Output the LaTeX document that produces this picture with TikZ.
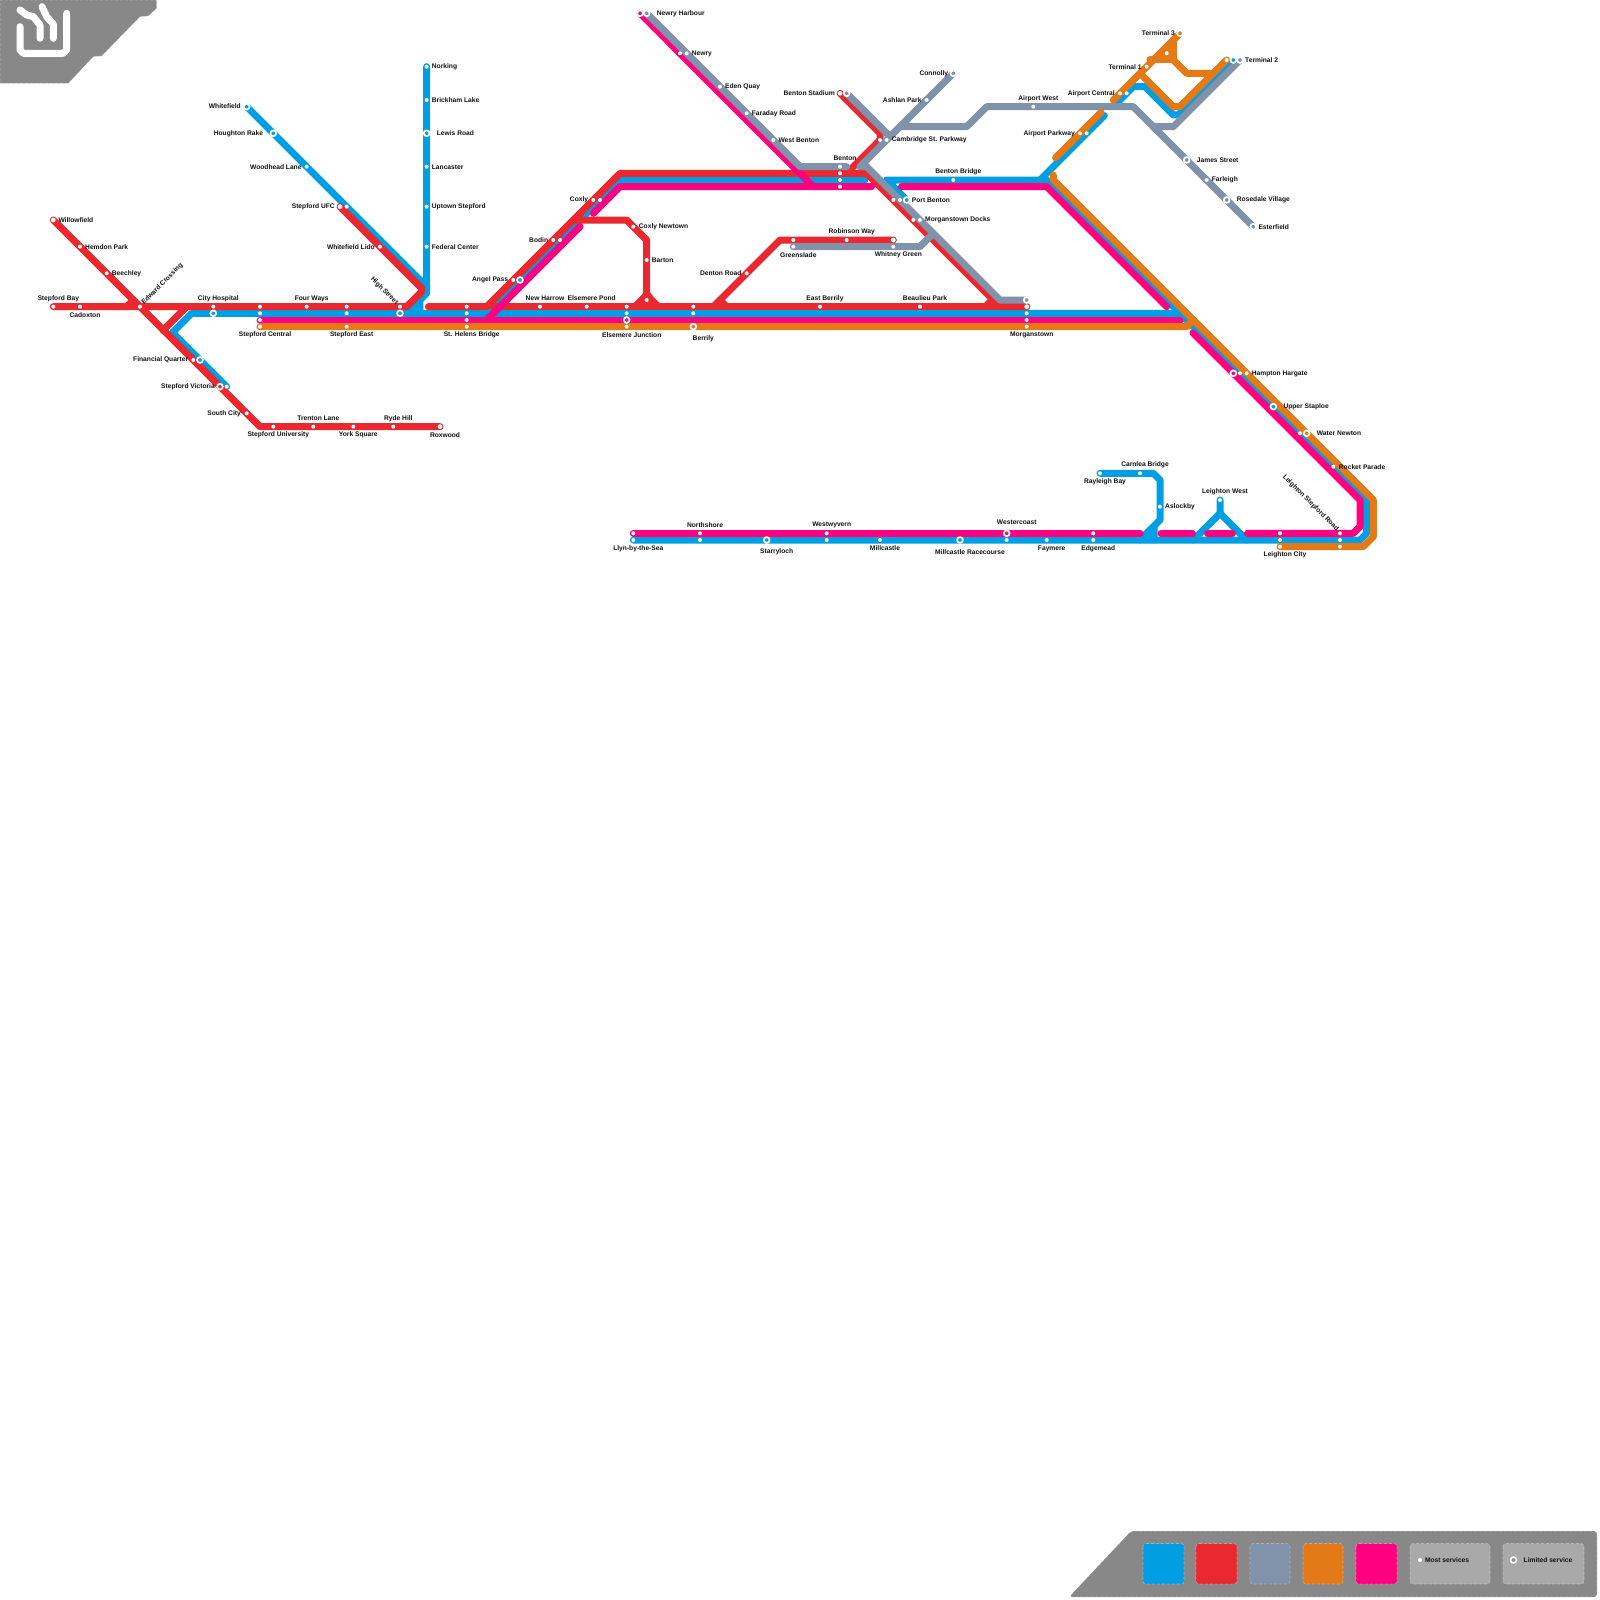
\documentclass[tikz,border=0pt]{standalone}
\usepackage{fontspec}
\setmainfont{Liberation Sans}
\definecolor{lblue}{HTML}{009FE3}
\definecolor{lred}{HTML}{E9282F}
\definecolor{lgrey}{HTML}{8093AB}
\definecolor{lorange}{HTML}{E47917}
\definecolor{lpink}{HTML}{FF0080}
\definecolor{panelgrey}{HTML}{888888}
\definecolor{boxgrey}{HTML}{A9A9A9}
\definecolor{ink}{HTML}{111111}
\tikzset{
  railway/.style={line width=7pt,line cap=round,line join=round},
  bluerail/.style={railway,draw=lblue},
  redrail/.style={railway,draw=lred},
  pinkrail/.style={railway,draw=lpink},
  greyrail/.style={railway,draw=lgrey},
  orangerail/.style={railway,draw=lorange},
  iconstroke/.style={line width=7pt,line cap=round,line join=round,draw=white},
  stopdot/.style={circle,fill=white,draw=none,minimum size=4pt,inner sep=0pt},
  stophollow/.style={circle,fill=white,draw=none,minimum size=4.8pt,inner sep=0pt},
  stopring/.style={circle,draw=white,line width=1.7pt,minimum size=5.8pt,inner sep=0pt},
  lab/.style={font=\fontsize{6.67}{8}\selectfont\bfseries,text=ink,inner sep=0pt,yshift=-0.8pt},
  lw/.style={lab,anchor=west},
  le/.style={lab,anchor=east},
  panelshape/.style={fill=panelgrey,draw=white,draw opacity=.35,line width=.6pt,dash pattern=on 3pt off 2pt,rounded corners=3pt},
  swatch/.style={rounded corners=3pt,draw=white,draw opacity=.35,line width=.6pt,dash pattern=on 3pt off 2pt},
}
\begin{document}
\begin{tikzpicture}[x=1pt,y=-1pt]
\useasboundingbox (0,0) rectangle (1600,1600);
\fill[white] (0,0) rectangle (1600,1600);
% top-left panel and icon
\draw[panelshape,rounded corners=0pt] (0,0) -- (156.7,0) -- (156.7,8.3) -- (148.3,16) -- (140,16.7) -- (101.7,56) -- (93.3,56.7) -- (68.3,83.3) -- (0,83.3) -- cycle;
\draw[iconstroke] (20,10) -- (26.67,15) -- (33.3,16.67) -- (40,25) -- (40,38.3);
\draw[iconstroke] (42,6.67) -- (46.67,16.67) -- (53.3,24) -- (53.3,38.3);
\draw[iconstroke] (20,26.67) -- (20,50) -- (23.3,53.3) -- (63.3,53.3) -- (66.67,50) -- (66.67,13.3);
% legend panel
\draw[panelshape] (1069,1597) -- (1131,1531) -- (1597,1531) -- (1597,1597) -- cycle;
\draw[swatch,fill=lblue] (1143,1543.5) rectangle (1184,1584);
\draw[swatch,fill=lred] (1196,1543.5) rectangle (1237,1584);
\draw[swatch,fill=lgrey] (1250,1543.5) rectangle (1290,1584);
\draw[swatch,fill=lorange] (1303,1543.5) rectangle (1343,1584);
\draw[swatch,fill=lpink] (1356,1543.5) rectangle (1397,1584);
\draw[swatch,fill=boxgrey] (1410,1543.5) rectangle (1490,1584);
\draw[swatch,fill=boxgrey] (1503,1543.5) rectangle (1584,1584);
\node[stopdot] (legdot) at (1420,1560) {};
\node[lw] (legmost) at (1424.8,1559) {Most services};
\node[stopring,fill=panelgrey] (legring) at (1513.5,1560) {};
\node[lw] (leglimited) at (1523.5,1559) {Limited service};
% blue
\fill[lblue] (408,316.6) -- (423.3,298) -- (423.3,316.6) -- cycle;
\fill[lblue] (1143.3,543) -- (1143.3,532) -- (1157.7,518) -- (1157.7,543) -- cycle;
\draw[bluerail] (426.67,66.67) -- (426.67,293.3) -- (406.67,313.3);
\draw[bluerail] (246.67,106.67) -- (426.67,286.67);
\draw[bluerail] (226.67,386.67) -- (172.5,332.5) -- (191.7,313.3) -- (486.67,313.3) -- (620,180) -- (865,180);
\draw[bluerail] (486.67,313.3) -- (1180,313.3) -- (1366.67,500) -- (1366.67,533.3) -- (1360,540) -- (633.3,540);
\draw[bluerail] (906.67,200) -- (886.67,180) -- (1046.67,180) -- (1180,313.3);
\draw[bluerail] (1040,180) -- (1104.3,115.6);
\draw[bluerail] (1118,102) -- (1133.3,86.67) -- (1145,86.67) -- (1173.3,115) -- (1178.3,115) -- (1233.3,60);
\draw[bluerail] (1100,473.3) -- (1153.3,473.3) -- (1160,480) -- (1160,520) -- (1140,540);
\draw[bluerail] (1220,500) -- (1220,513.3) -- (1193.3,540);
\draw[bluerail] (1220,513.3) -- (1246.67,540);
% red
\draw[redrail] (53.3,220) -- (260,426.67) -- (440,426.67);
\draw[redrail] (53.3,306.67) -- (406.67,306.67) -- (421.67,291.67) -- (421.67,288.3) -- (340,206.67);
\draw[redrail] (428.4,306.67) -- (486.67,306.67) -- (620,173.3) -- (866.67,173.3) -- (1000,306.67) -- (1026.67,306.67);
\draw[redrail] (493,306.67) -- (1026.67,306.67);
\fill[lred] (633,306.67) -- (644,292) -- (650,292) -- (660,306.67) -- cycle;
\draw[redrail] (573.3,220) -- (626.67,220) -- (646.67,240) -- (646.67,295) -- (635,306.67);
\draw[redrail] (646.67,295) -- (658.3,306.67);
\draw[redrail] (713.3,306.67) -- (780,240) -- (893.3,240);
\draw[redrail] (720,300) -- (726.67,306.67);
\draw[redrail] (992,300) -- (985.3,306.67);
\draw[redrail] (133.3,300) -- (126.67,306.67);
\draw[redrail] (840,93.3) -- (880,133.3) -- (880,140) -- (846.67,173.3);
\draw[redrail] (186.67,306.67) -- (163,330.3);
% pink
\draw[pinkrail] (640,13.3) -- (813.3,186.67);
\draw[pinkrail] (260,320) -- (1180,320);
\draw[pinkrail] (486.67,320) -- (580,226.67);
\draw[pinkrail] (593.3,213.3) -- (620,186.67) -- (871.5,186.67);
\draw[pinkrail] (901.5,186.67) -- (1046.67,186.67) -- (1166.67,306.67);
\draw[pinkrail] (1193,333) -- (1360,500) -- (1360,526.67) -- (1353.3,533.3) -- (1247.5,533.3);
\draw[pinkrail] (1207.5,533.3) -- (1232.5,533.3);
\draw[pinkrail] (1161,533.3) -- (1192.5,533.3);
\draw[pinkrail] (633.3,533.3) -- (1140,533.3);
% grey
\draw[greyrail] (646.67,13.3) -- (800,166.67) -- (846.67,166.67);
\draw[greyrail] (846.67,93.3) -- (888,134.6);
\draw[greyrail] (953.3,73.3) -- (860,166.67) -- (866.67,166.67) -- (1000,300) -- (1026.67,300);
\draw[greyrail] (900,126.67) -- (966.67,126.67) -- (986.67,106.67) -- (1133.3,106.67) -- (1253.3,226.67);
\draw[greyrail] (1240,60) -- (1173.3,126.67) -- (1153.3,126.67) -- (1160,133.3);
\draw[greyrail] (793.3,246.67) -- (920,246.67) -- (933.3,233.3);
% orange
\draw[orangerail] (260,326.67) -- (1186.67,326.67) -- (1193.3,320);
\draw[orangerail] (1053.3,175) -- (1053.3,180) -- (1373.3,500) -- (1373.3,536.67) -- (1363.3,546.67) -- (1280,546.67);
\draw[orangerail] (1055.6,157.7) -- (1101,112.3);
\fill[lorange] (1153.3,60) -- (1173.3,60) -- (1173.3,40) -- cycle;
\draw[orangerail] (1113.3,100) -- (1180,33.3);
\draw[orangerail] (1173.3,40) -- (1173.3,60) -- (1186.67,73.3) -- (1210,73.3);
\draw[orangerail] (1150,60) -- (1173.3,60);
\draw[orangerail] (1226.67,60) -- (1180,106.67) -- (1173.3,106.67) -- (1140,73.3);
% plain stops
\foreach \x/\y [count=\i] in {
 426.67/66.67,426.67/100,426.67/166.67,426.67/206.67,426.67/246.67,
 306.67/166.67,346.67/206.67,380/246.67,
 80/246.67,106.67/273.3,53.3/306.67,80/306.67,140/306.67,213.3/306.67,260/306.67,306.67/306.67,346.67/306.67,400/306.67,466.67/306.67,
 260/313.3,346.67/313.3,466.67/313.3,260/320,466.67/320,346.67/326.67,466.67/326.67,260/326.67,
 193.3/360,246.67/413.3,273.3/426.67,313.3/426.67,353.3/426.67,393.3/426.67,
 226.67/386.67,
 600/200,593.3/200,513.3/280,553.3/240,560/240,
 633.3/226.67,646.67/260,646.67/300,
 540/306.67,586.67/306.67,626.67/306.67,693.3/306.67,820/306.67,920/306.67,
 626.67/313.3,693.3/313.3,1026.67/313.3,1026.67/320,626.67/326.67,1026.67/326.67,
 746.67/273.3,793.3/240,846.67/240,793.3/246.67,893.3/246.67,
 686.67/53.3,680/53.3,720/86.67,746.67/113.3,773.3/140,
 840/166.67,840/173.3,840/180,840/186.67,
 880/140,886.67/140,926.67/100,1033.3/106.67,953.3/180,
 893.3/200,900/200,913.3/220,920/220,
 1080/133.3,1086.67/133.3,1120/93.3,1126.67/93.3,1146.67/66.67,1166.67/53.3,1226.67/60,
 1206.67/180,1240/373.3,1246.67/373.3,1300/433.3,1333.3/466.67,
 1100/473.3,1140/473.3,1160/506.67,1220/500,
 633.3/533.3,633.3/540,700/533.3,700/540,826.67/533.3,826.67/540,880/540,1006.67/540,1046.67/540,1093.3/533.3,1093.3/540,
 1280/533.3,1280/540,1280/546.67,1340/533.3,1340/540,1340/546.67}
 \node[stopdot] (dot\i) at (\x,\y) {};
% larger open stops at line ends
\foreach \x/\y [count=\i] in {53.3/220,340/206.67,840/93.3,893.3/240,1026.67/306.67,440/426.67}
 \node[stophollow] (open\i) at (\x,\y) {};
% ringed stops
\foreach \x/\y/\c [count=\i] in {
 246.67/106.67/lblue,273.3/133.3/lblue,426.67/133.3/lblue,
 200/360/lblue,220/386.67/lred,213.3/313.3/lblue,400/313.3/lblue,520/280/lblue,
 626.67/320/lpink,693.3/326.67/lorange,846.67/93.3/lgrey,953.3/73.3/lgrey,906.67/200/lblue,
 1026.67/300/lgrey,1186.67/160/lgrey,1226.67/200/lgrey,1253.3/226.67/lgrey,
 1233.3/373.3/lpink,1273.3/406.67/lblue,1306.67/433.3/lorange,1180/33.3/lorange,1233.3/60/lblue,1240/60/lgrey,
 1006.67/533.3/lpink,766.67/540/lblue,960/540/lblue,640/13.3/lpink,646.67/13.3/lgrey}
 \node[stopring,fill=\c] (ring\i) at (\x,\y) {};
% labels, right-hand
\node[lw] (tNorking) at (431.7,66.3) {Norking};
\node[lw] (tBrickham) at (431.7,99.3) {Brickham Lake};
\node[lw] (tLewis) at (436.7,132.7) {Lewis Road};
\node[lw] (tLancaster) at (431.7,166) {Lancaster};
\node[lw] (tUptown) at (431.7,206) {Uptown Stepford};
\node[lw] (tFederal) at (431.7,246) {Federal Center};
\node[lw] (tWillow) at (58.3,219.5) {Willowfield};
\node[lw] (tHemdon) at (85,246) {Hemdon Park};
\node[lw] (tBeechley) at (111.7,272.7) {Beechley};
\node[lw] (tCoxlyN) at (638.7,226) {Coxly Newtown};
\node[lw] (tBarton) at (651.7,259.3) {Barton};
\node[lw] (tNewryH) at (656.7,12.7) {Newry Harbour};
\node[lw] (tNewry) at (691.7,52.7) {Newry};
\node[lw] (tEden) at (725,86) {Eden Quay};
\node[lw] (tFaraday) at (751.7,112.7) {Faraday Road};
\node[lw] (tWBenton) at (778.3,139.3) {West Benton};
\node[lw] (tCambridge) at (891.7,139.3) {Cambridge St. Parkway};
\node[lw] (tPortB) at (911.7,199.3) {Port Benton};
\node[lw] (tDocks) at (925,219.3) {Morganstown Docks};
\node[lw] (tT2) at (1245,59.3) {Terminal 2};
\node[lw] (tJames) at (1196.7,159.3) {James Street};
\node[lw] (tFarleigh) at (1211.7,179.3) {Farleigh};
\node[lw] (tRosedale) at (1236.7,199.3) {Rosedale Village};
\node[lw] (tEsterfield) at (1258.3,226) {Esterfield};
\node[lw] (tHampton) at (1251.7,372.7) {Hampton Hargate};
\node[lw] (tUpper) at (1283.3,406) {Upper Staploe};
\node[lw] (tWater) at (1316.7,432.7) {Water Newton};
\node[lw] (tRocket) at (1338.7,466) {Rocket Parade};
\node[lw] (tAslockby) at (1165,506) {Aslockby};
% labels, left-hand
\node[le] (tWhitefield) at (241,105.2) {Whitefield};
\node[le] (tHoughton) at (263.3,132.7) {Houghton Rake};
\node[le] (tWoodhead) at (301.7,166) {Woodhead Lane};
\node[le] (tUFC) at (335,206) {Stepford UFC};
\node[le] (tLido) at (375,246) {Whitefield Lido};
\node[le] (tFinancial) at (188.3,359) {Financial Quarter};
\node[le] (tVictoria) at (215,386) {Stepford Victoria};
\node[le] (tSouth) at (241,412.5) {South City};
\node[le] (tAngel) at (508.3,279.3) {Angel Pass};
\node[le] (tBodin) at (548.3,239.3) {Bodin};
\node[le] (tCoxly) at (588.3,199.3) {Coxly};
\node[le] (tDenton) at (741.7,272.7) {Denton Road};
\node[le] (tStadium) at (835,92.7) {Benton Stadium};
\node[le] (tAshlan) at (921.7,99) {Ashlan Park};
\node[le] (tConnolly) at (948.3,72.7) {Connolly};
\node[le] (tParkway) at (1075,132.7) {Airport Parkway};
\node[le] (tAirCentral) at (1115,92.7) {Airport Central};
\node[le] (tT1) at (1141.7,66) {Terminal 1};
\node[le] (tT3) at (1175,32.5) {Terminal 3};
% labels, centred
\node[lab] (tBay) at (58.3,297.5) {Stepford Bay};
\node[lab] (tCadoxton) at (85,314.3) {Cadoxton};
\node[lab] (tCity) at (218.3,297.7) {City Hospital};
\node[lab] (tFour) at (311.7,297.7) {Four Ways};
\node[lab] (tCentral) at (265,334.3) {Stepford Central};
\node[lab] (tEast) at (351.7,334.3) {Stepford East};
\node[lab] (tHelens) at (471.7,334.3) {St. Helens Bridge};
\node[lab] (tTrenton) at (318.3,417.7) {Trenton Lane};
\node[lab] (tRyde) at (398.3,417.7) {Ryde Hill};
\node[lab] (tUniv) at (278.3,434.3) {Stepford University};
\node[lab] (tYork) at (358.3,434.3) {York Square};
\node[lab] (tRoxwood) at (445,434.3) {Roxwood};
\node[lab] (tHarrow) at (545,297.7) {New Harrow};
\node[lab] (tPond) at (591.7,297.7) {Elsemere Pond};
\node[lab] (tJunction) at (631.7,334.3) {Elsemere Junction};
\node[lab] (tBerrily) at (703.3,337.7) {Berrily};
\node[lab] (tGreenslade) at (798.3,254.3) {Greenslade};
\node[lab] (tEBerrily) at (825,297.7) {East Berrily};
\node[lab] (tBenton) at (845,157.7) {Benton};
\node[lab] (tAWest) at (1038.3,97.7) {Airport West};
\node[lab] (tBBridge) at (958.3,171) {Benton Bridge};
\node[lab] (tRobinson) at (851.7,231) {Robinson Way};
\node[lab] (tWhitney) at (898.3,254.3) {Whitney Green};
\node[lab] (tBeaulieu) at (925,297.7) {Beaulieu Park};
\node[lab] (tMorgan) at (1031.7,334.3) {Morganstown};
\node[lab] (tCarnlea) at (1145,464.3) {Carnlea Bridge};
\node[lab] (tRayleigh) at (1105,481) {Rayleigh Bay};
\node[lab] (tLWest) at (1225,491) {Leighton West};
\node[lab] (tWestercoast) at (1016.7,521) {Westercoast};
\node[lab] (tLCity) at (1285,554.3) {Leighton City};
\node[lab] (tEdgemead) at (1098.3,547.7) {Edgemead};
\node[lab] (tFaymere) at (1051.7,547.7) {Faymere};
\node[lab] (tLlyn) at (638.3,547.7) {Llyn-by-the-Sea};
\node[lab] (tNorthshore) at (705,524.3) {Northshore};
\node[lab] (tWestwyvern) at (831.7,524.3) {Westwyvern};
\node[lab] (tStarry) at (776.7,551) {Starryloch};
\node[lab] (tMill) at (885,547.7) {Millcastle};
\node[lab] (tMillR) at (970,551) {Millcastle Racecourse};
% rotated labels
\node[lab,rotate=45] (tEdward) at (162.3,283.3) {Edward Crossing};
\node[lab,rotate=-45] (tHigh) at (384.3,290) {High Street};
\node[lab,rotate=-45] (tLStepford) at (1310.7,502.3) {Leighton Stepford Road};
\end{tikzpicture}
\end{document}
